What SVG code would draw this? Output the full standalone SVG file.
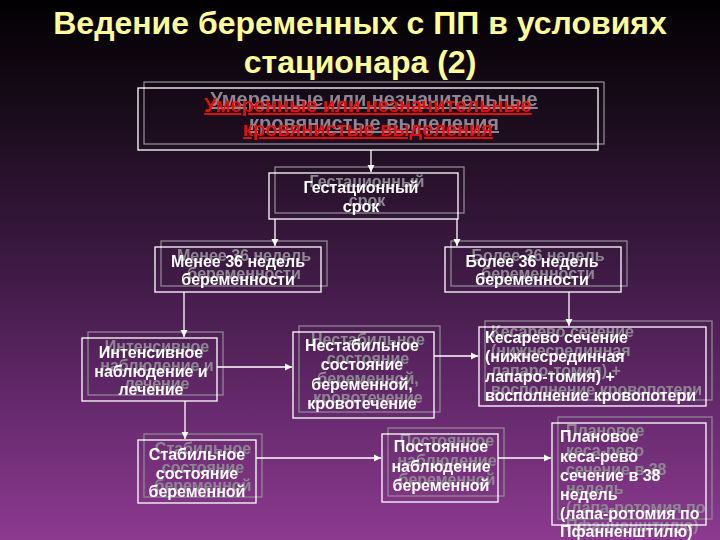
<svg xmlns="http://www.w3.org/2000/svg" width="720" height="540" viewBox="0 0 720 540">
<defs>
<linearGradient id="bg" x1="0" y1="0" x2="0" y2="1">
<stop offset="0" stop-color="#020002"/>
<stop offset="0.25" stop-color="#1e0e20"/>
<stop offset="0.5" stop-color="#3e1a44"/>
<stop offset="0.75" stop-color="#65296c"/>
<stop offset="1" stop-color="#8c3a90"/>
</linearGradient>
<filter id="sh" filterUnits="userSpaceOnUse" x="0" y="0" width="720" height="540">
<feOffset in="SourceAlpha" dx="6" dy="-6" result="o"/>
<feFlood flood-color="#8e8692"/>
<feComposite in2="o" operator="in" result="s"/>
<feMerge><feMergeNode in="s"/><feMergeNode in="SourceGraphic"/></feMerge>
</filter>
<marker id="ah" markerUnits="userSpaceOnUse" markerWidth="8" markerHeight="8" refX="7" refY="4" orient="auto">
<path d="M0,0.5 L7,4 L0,7.5 Z" fill="#ffffff"/>
</marker>
<style>
.node{filter:url(#sh)}
.box{fill:none;stroke:#ffffff;stroke-width:1.3}
.t{font-family:"Liberation Sans",Arial,sans-serif;font-size:16px;font-weight:bold;fill:#ffffff}
.c{text-anchor:middle}
.red{font-family:"Liberation Sans",Arial,sans-serif;font-size:20px;font-weight:bold;fill:#e81010;text-decoration:underline;text-anchor:middle}
.title{font-family:"Liberation Sans",Arial,sans-serif;font-size:32px;font-weight:bold;fill:#ffff99;text-anchor:middle}
.conn{stroke:#ffffff;stroke-width:1.3;fill:none}
</style>
</defs>
<rect x="0" y="0" width="720" height="540" fill="url(#bg)"/>

<g id="title">
<text class="title" x="360" y="34">Ведение беременных с ПП в условиях</text>
<text class="title" x="360" y="73">стационара (2)</text>
</g>

<g id="n1" class="node">
<rect class="box" x="138" y="88" width="460" height="62"/>
<text class="red" x="368" y="112">Умеренные или незначительные</text>
<text class="red" x="368" y="136">кровянистые выделения</text>
</g>

<g id="n2" class="node">
<rect class="box" x="269" y="173" width="189" height="46"/>
<text class="t c" x="361" y="193">Гестационный</text>
<text class="t c" x="361" y="212">срок</text>
</g>

<g id="n3" class="node">
<rect class="box" x="155" y="247" width="166" height="45"/>
<text class="t c" x="238" y="267">Менее 36 недель</text>
<text class="t c" x="238" y="285">беременности</text>
</g>

<g id="n4" class="node">
<rect class="box" x="445" y="247" width="176" height="45"/>
<text class="t c" x="532" y="267">Более 36 недель</text>
<text class="t c" x="532" y="285">беременности</text>
</g>

<g id="n5" class="node">
<rect class="box" x="82" y="338" width="135" height="63"/>
<text class="t c" x="151" y="358">Интенсивное</text>
<text class="t c" x="151" y="377">наблюдение и</text>
<text class="t c" x="151" y="395">лечение</text>
</g>

<g id="n6" class="node">
<rect class="box" x="293" y="332" width="141" height="86"/>
<text class="t c" x="362" y="351">Нестабильное</text>
<text class="t c" x="362" y="370">состояние</text>
<text class="t c" x="362" y="390">беременной,</text>
<text class="t c" x="362" y="409">кровотечение</text>
</g>

<g id="n7" class="node">
<rect class="box" x="479" y="327" width="227" height="79"/>
<text class="t" x="485" y="343">Кесарево сечение</text>
<text class="t" x="485" y="362">(нижнесрединная</text>
<text class="t" x="485" y="382">лапаро-томия) +</text>
<text class="t" x="485" y="401">восполнение кровопотери</text>
</g>

<g id="n8" class="node">
<rect class="box" x="138" y="440" width="118" height="63"/>
<text class="t c" x="197" y="460">Стабильное</text>
<text class="t c" x="197" y="479">состояние</text>
<text class="t c" x="197" y="497">беременной</text>
</g>

<g id="n9" class="node">
<rect class="box" x="382" y="434" width="116" height="68"/>
<text class="t c" x="441" y="452">Постоянное</text>
<text class="t c" x="441" y="472">наблюдение</text>
<text class="t c" x="441" y="491">беременной</text>
</g>

<g id="n10" class="node">
<rect class="box" x="552" y="423" width="154" height="102"/>
<text class="t" x="560" y="442">Плановое</text>
<text class="t" x="560" y="462">кеса-рево</text>
<text class="t" x="560" y="481">сечение в 38</text>
<text class="t" x="560" y="500">недель</text>
<text class="t" x="560" y="519">(лапа-ротомия по</text>
<text class="t" x="560" y="537">Пфанненштилю)</text>
</g>

<g id="connectors">
<path class="conn" d="M371,150 V172" marker-end="url(#ah)"/>
<path class="conn" d="M275,219 V246" marker-end="url(#ah)"/>
<path class="conn" d="M457,219 V246" marker-end="url(#ah)"/>
<path class="conn" d="M184,292 V337" marker-end="url(#ah)"/>
<path class="conn" d="M217,367 H292" marker-end="url(#ah)"/>
<path class="conn" d="M569,292 V326" marker-end="url(#ah)"/>
<path class="conn" d="M434,356 H478" marker-end="url(#ah)"/>
<path class="conn" d="M185,401 V439" marker-end="url(#ah)"/>
<path class="conn" d="M256,458 H381" marker-end="url(#ah)"/>
<path class="conn" d="M498,458 H551" marker-end="url(#ah)"/>
</g>
</svg>
